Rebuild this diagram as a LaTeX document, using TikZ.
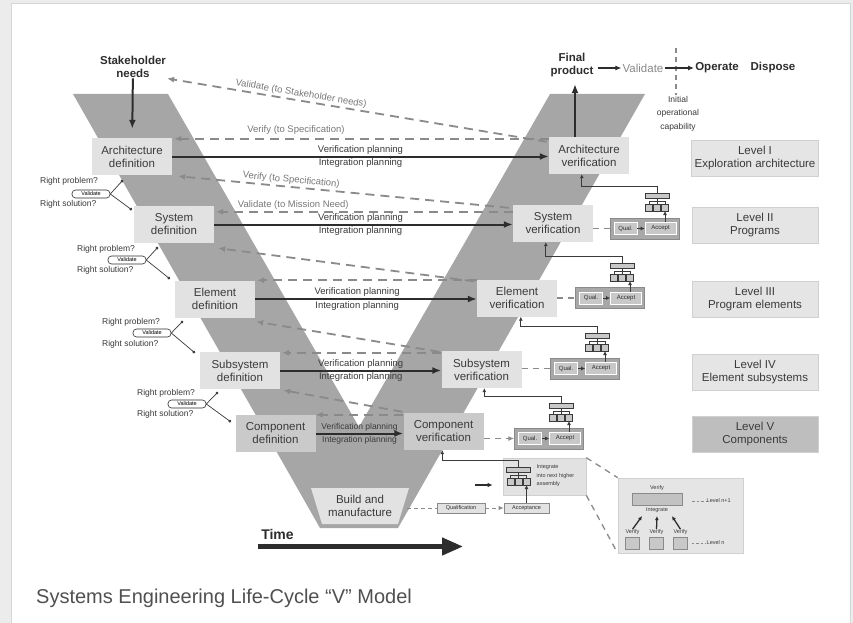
\documentclass[tikz,border=0pt]{standalone}
\usepackage{fontspec}
\setmainfont{Liberation Sans}
\usetikzlibrary{arrows.meta, positioning, calc}

\definecolor{pageGray}{RGB}{236,236,236}
\definecolor{frameGray}{RGB}{214,214,214}
\definecolor{vGray}{RGB}{166,166,166}
\definecolor{boxGray}{RGB}{226,226,226}
\definecolor{compGray}{RGB}{202,202,202}
\definecolor{levelGray}{RGB}{229,229,229}
\definecolor{levelDark}{RGB}{190,190,190}
\definecolor{edgeGray}{RGB}{208,208,208}
\definecolor{dashGray}{RGB}{138,138,138}
\definecolor{inkDark}{RGB}{45,45,45}
\definecolor{textDark}{RGB}{58,58,58}
\definecolor{noteGray}{RGB}{120,120,120}
\definecolor{qaGray}{RGB}{168,168,168}
\definecolor{iconGray}{RGB}{200,200,200}
\definecolor{captionGray}{RGB}{80,80,80}

\newcommand{\boxtext}{\fontsize{11.5}{13}\selectfont}
\newcommand{\plantext}{\fontsize{9.5}{11}\selectfont}
\newcommand{\asktext}{\fontsize{8.5}{10}\selectfont}
\newcommand{\tinytext}{\fontsize{6}{7}\selectfont}
\newcommand{\microtext}{\fontsize{5.5}{8.5}\selectfont}

% small integration tree: bar on top, three parts below
\tikzset{
  treeicon/.pic={
    \draw[fill=iconGray, draw=textDark, line width=0.5pt] (-12,-2.5) rectangle (12,2.5);
    \draw[textDark, line width=0.5pt] (0,2.5) -- (0,5.5) (-8,5.5) -- (8,5.5)
      (-8,5.5) -- (-8,8.5) (0,5.5) -- (0,8.5) (8,5.5) -- (8,8.5);
    \draw[fill=iconGray, draw=textDark, line width=0.5pt] (-11.5,8.5) rectangle (-4.5,15.5)
      (-3.5,8.5) rectangle (3.5,15.5) (4.5,8.5) rectangle (11.5,15.5);
    \coordinate (-top) at (0,-2.5);
    \coordinate (-foot) at (8,15.5);
  }
}

\begin{document}
\begin{tikzpicture}[x=1pt, y=-1pt,
    defbox/.style={rectangle, fill=boxGray, minimum width=80pt, minimum height=37pt, inner sep=1pt, align=center, font=\boxtext, text=textDark},
    levelbox/.style={rectangle, fill=levelGray, draw=edgeGray, line width=0.6pt, minimum width=126pt, minimum height=36pt, align=center, font=\boxtext, text=textDark},
    headtext/.style={align=center, font=\boxtext\bfseries, text=inkDark, inner sep=1pt},
    plan/.style={inkDark, line width=2pt, -{Latex[length=9pt, width=7pt]}},
    planlabel/.style={font=\plantext, text=textDark, inner sep=1.5pt},
    check/.style={dashGray, line width=1.8pt, dash pattern=on 9pt off 6pt, -{Latex[length=7pt, width=6pt]}},
    checklabel/.style={font=\plantext, text=noteGray, inner sep=1.5pt},
    asklabel/.style={anchor=west, font=\asktext, text=textDark, inner sep=0pt},
    pill/.style={draw=inkDark, fill=white, line width=0.6pt, rounded corners=3.5pt, minimum width=38pt, minimum height=8pt, inner sep=0pt, font=\microtext},
    askline/.style={textDark, line width=0.7pt, -{Circle[length=3pt]}},
    qabox/.style={rectangle, fill=qaGray, draw=dashGray, line width=0.5pt, minimum width=69pt, minimum height=21pt, inner sep=0pt},
    qaitem/.style={rectangle, fill=iconGray, draw=white, line width=0.7pt, minimum height=12pt, inner sep=0pt, font=\tinytext, text=inkDark},
    feed/.style={textDark, line width=1pt, -{Latex[length=4pt, width=4pt]}},
    stub/.style={dashGray, line width=1.5pt, dash pattern=on 6pt off 5pt},
    smallbox/.style={rectangle, fill=boxGray, draw=dashGray, line width=0.6pt, minimum height=10pt, inner sep=0pt, font=\microtext, text=inkDark},
    note/.style={font=\microtext, text=textDark, inner sep=0.5pt}
]
    \useasboundingbox (0,0) rectangle (853,623);
    \fill[pageGray] (0,0) rectangle (853,623);
    \filldraw[fill=white, draw=frameGray, line width=1pt] (11,4) rectangle (850,640);

    % The V
    \fill[vGray] (73,94) -- (168,94) -- (359,427) -- (550,94) -- (645,94) -- (398,528) -- (320,528) -- cycle;
    \fill[boxGray] (311,488) -- (409,488) -- (398,524) -- (322,524) -- cycle;
    \node[align=center, font=\boxtext, text=textDark, inner sep=1pt] (build) at (360,506) {Build and\\manufacture};

    % Left side: definition
    \node[defbox] (archdef) at (132,156.5) {Architecture\\definition};
    \node[defbox] (sysdef) at (174,224.5) {System\\definition};
    \node[defbox] (elemdef) at (215,299) {Element\\definition};
    \node[defbox] (subdef) at (240,370.5) {Subsystem\\definition};
    \node[defbox, fill=compGray] (compdef) at (275.5,433.5) {Component\\definition};

    % Right side: verification
    \node[defbox] (archver) at (589,155.5) {Architecture\\verification};
    \node[defbox] (sysver) at (553,223.5) {System\\verification};
    \node[defbox] (elemver) at (517,298) {Element\\verification};
    \node[defbox] (subver) at (481.5,369.5) {Subsystem\\verification};
    \node[defbox, fill=compGray] (compver) at (443.5,431.5) {Component\\verification};

    % Levels
    \node[levelbox] (lev1) at (755,158.5) {Level I\\Exploration architecture};
    \node[levelbox] (lev2) at (755,225) {Level II\\Programs};
    \node[levelbox] (lev3) at (755,299.5) {Level III\\Program elements};
    \node[levelbox] (lev4) at (755,372) {Level IV\\Element subsystems};
    \node[levelbox, fill=levelDark] (lev5) at (755,434) {Level V\\Components};

    % Top row
    \node[headtext] (needs) at (133,66.5) {Stakeholder\\needs};
    \draw[plan, shorten >=9pt] (needs) -- (archdef);
    \node[headtext] (final) at (572,65) {Final\\product};
    \draw[plan, shorten >=6pt] ([xshift=-14pt]archver.north) -- ([xshift=3pt]final.south);
    \node[font=\boxtext, text=dashGray, inner sep=1pt] (validate) at (643,68) {Validate};
    \node[headtext] (operate) at (717,68) {Operate};
    \node[headtext] (dispose) at (773,68) {Dispose};
    \node[align=center, font=\fontsize{8.5}{13.5}\selectfont, text=textDark, inner sep=1pt] (ioc) at (678,113.5) {Initial\\operational\\capability};
    \coordinate (ioctop) at (676,48);
    \draw[stub, line width=1.2pt, dash pattern=on 5pt off 4pt] (ioctop) -- (ioctop |- ioc.north);
    \draw[inkDark, line width=1.2pt, -{Latex[length=6pt, width=5pt]}, shorten <=3pt] (final.east |- validate) -- (validate);
    \draw[inkDark, line width=1.2pt, -{Latex[length=6pt, width=5pt]}] (validate) -- (operate);

    % Verify / validate paths
    \draw[check] ($(archver.north west)+(-2,5)$) -- node[checklabel, sloped, above, pos=0.65] {Validate (to Stakeholder needs)} ($(needs.east)+(0,12)$);
    \draw[check] ($(archver.north west)+(0,2)$) -- node[checklabel, above=2pt, pos=0.675] {Verify (to Specification)} ($(archdef.north east)+(2,1)$);
    \draw[check] ($(sysver.north west)+(-4,3)$) -- node[checklabel, sloped, above, pos=0.66] {Verify (to Specification)} ($(archdef.south east)+(6,1)$);
    \draw[check] ($(sysver.north west)+(0,7)$) -- node[checklabel, above, pos=0.74] {Validate (to Mission Need)} ($(sysdef.north east)+(2,6)$);
    \draw[check] ($(elemver.north west)+(-3,2)$) -- ($(sysdef.south east)+(4,5)$);
    \draw[check] ($(elemver.north west)+(0,1)$) -- ($(elemdef.north east)+(2,0)$);
    \draw[check] ($(subver.north west)+(-2,1)$) -- ($(elemdef.south east)+(1,4)$);
    \draw[check] ($(subver.north west)+(0,2)$) -- ($(subdef.north east)+(2,1)$);
    \draw[check] ($(compver.north west)+(-1,-1)$) -- ($(subdef.south east)+(3,1)$);
    \draw[check] ($(compver.north west)+(0,2)$) -- (compdef.north east);

    % Planning
    \draw[plan] (archdef.east) -- node[planlabel, above] {Verification planning} node[planlabel, below] {Integration planning} (archdef.east -| archver.west);
    \draw[plan] (sysdef.east) -- node[planlabel, above, pos=0.49] {Verification planning} node[planlabel, below, pos=0.49] {Integration planning} (sysdef.east -| sysver.west);
    \draw[plan] (elemdef.east) -- node[planlabel, above, pos=0.46] {Verification planning} node[planlabel, below, pos=0.46] {Integration planning} (elemdef.east -| elemver.west);
    \draw[plan] (subdef.east) -- node[planlabel, above] {Verification planning} node[planlabel, below] {Integration planning} (subdef.east -| subver.west);
    \draw[plan] (compdef.east) -- node[planlabel, above, font=\fontsize{8.5}{10}\selectfont] {Verification planning} node[planlabel, below, font=\fontsize{8.5}{10}\selectfont] {Integration planning} (compdef.east -| compver.west);

    % Right problem / right solution
    \node[asklabel] (prob1) at (40,181) {Right problem?};
    \node[pill] (pill1) at (91,194) {Validate};
    \node[asklabel] (sol1) at (40,204) {Right solution?};
    \coordinate (up1) at (123,180);
    \coordinate (dn1) at (132,210);
    \draw[askline] (pill1.east) -- (up1);
    \draw[askline] (pill1.east) -- (dn1);

    \node[asklabel] (prob2) at (77,249) {Right problem?};
    \node[pill] (pill2) at (127,260) {Validate};
    \node[asklabel] (sol2) at (77,270) {Right solution?};
    \coordinate (up2) at (158,247);
    \coordinate (dn2) at (170,279);
    \draw[askline] (pill2.east) -- (up2);
    \draw[askline] (pill2.east) -- (dn2);

    \node[asklabel] (prob3) at (102,322) {Right problem?};
    \node[pill] (pill3) at (152,333) {Validate};
    \node[asklabel] (sol3) at (102,344) {Right solution?};
    \coordinate (up3) at (183,321);
    \coordinate (dn3) at (195,353);
    \draw[askline] (pill3.east) -- (up3);
    \draw[askline] (pill3.east) -- (dn3);

    \node[asklabel] (prob4) at (137,393) {Right problem?};
    \node[pill] (pill4) at (187,404) {Validate};
    \node[asklabel] (sol4) at (137,414) {Right solution?};
    \coordinate (up4) at (218,392);
    \coordinate (dn4) at (231,422);
    \draw[askline] (pill4.east) -- (up4);
    \draw[askline] (pill4.east) -- (dn4);

    % Qualification / acceptance per level
    \node[qabox] (qa2) at (644.5,228.5) {};
    \node[qaitem, minimum width=23pt] (qual2) at (625.5,228.5) {Qual.};
    \node[qaitem, minimum width=31pt] (acc2) at (660.5,228.5) {Accept};
    \draw[feed] (qual2) -- (acc2);
    \draw[stub] (sysver.east |- qa2) -- (qa2.west);
    \pic (tree2) at (657,195.5) {treeicon};
    \draw[feed] (acc2.north -| tree2-foot) -- (tree2-foot);
    \draw[feed] (tree2-top) -- ++(0,-7) -| ($(archver.south west)+(33,0)$);

    \node[qabox] (qa3) at (610,298) {};
    \node[qaitem, minimum width=23pt] (qual3) at (591,298) {Qual.};
    \node[qaitem, minimum width=31pt] (acc3) at (626,298) {Accept};
    \draw[feed] (qual3) -- (acc3);
    \draw[stub] (elemver.east |- qa3) -- (qa3.west);
    \pic (tree3) at (622,265.5) {treeicon};
    \draw[feed] (acc3.north -| tree3-foot) -- (tree3-foot);
    \draw[feed] (tree3-top) -- ++(0,-7) -| ($(sysver.south west)+(33,0)$);

    \node[qabox] (qa4) at (585,368.5) {};
    \node[qaitem, minimum width=23pt] (qual4) at (566,368.5) {Qual.};
    \node[qaitem, minimum width=31pt] (acc4) at (601,368.5) {Accept};
    \draw[feed] (qual4) -- (acc4);
    \draw[stub] (subver.east |- qa4) -- (qa4.west);
    \pic (tree4) at (597,335.5) {treeicon};
    \draw[feed] (acc4.north -| tree4-foot) -- (tree4-foot);
    \draw[feed] (tree4-top) -- ++(0,-7) -| ($(elemver.south west)+(44,0)$);

    \node[qabox] (qa5) at (549,438.5) {};
    \node[qaitem, minimum width=23pt] (qual5) at (530,438.5) {Qual.};
    \node[qaitem, minimum width=31pt] (acc5) at (565,438.5) {Accept};
    \draw[feed] (qual5) -- (acc5);
    \draw[stub, -{Latex[length=6pt, width=5pt]}] (compver.east |- qa5) -- (qa5.west);
    \pic (tree5) at (561,405.5) {treeicon};
    \draw[feed] (acc5.north -| tree5-foot) -- (tree5-foot);
    \draw[feed] (tree5-top) -- ++(0,-7) -| ($(subver.south west)+(43,0)$);

    % Integrate into next higher assembly
    \node[rectangle, fill=boxGray, draw=edgeGray, line width=0.6pt, minimum width=83pt, minimum height=37pt] (intbox) at (544.5,476.5) {};
    \pic (tree6) at (518.5,469.5) {treeicon};
    \node[note, anchor=west, align=left] (inttext) at (536,476) {Integrate\\into next higher\\assembly};
    \draw[feed] (tree6-top) -- ++(0,-7) -| ($(compver.south west)+(39,0)$);
    \coordinate (intin) at (475,485);
    \draw[inkDark, line width=1.2pt, -{Latex[length=5pt, width=4.5pt]}, shorten >=10pt] (intin) -- (intin -| intbox.west);
    \node[smallbox, minimum width=48pt] (qualif) at (461,508) {Qualification};
    \node[smallbox, minimum width=45pt] (accept) at (526.5,508) {Acceptance};
    \draw[stub, line width=1pt, dash pattern=on 4pt off 3pt, shorten <=14pt] (build.east |- qualif) -- (qualif.west);
    \draw[stub, line width=1pt, dash pattern=on 4pt off 3pt, -{Latex[length=5pt, width=4.5pt]}] (qualif) -- (accept);
    \draw[feed] (accept) -- (tree6-foot);

    % Detail of one integration step
    \node[rectangle, fill=levelGray, draw=edgeGray, line width=0.6pt, minimum width=125pt, minimum height=75pt] (inset) at (680.5,515.5) {};
    \draw[stub, line width=1.3pt] (intbox.north east) -- (inset.north west);
    \draw[stub, line width=1.3pt] (intbox.south east) -- (inset.south west);
    \node[note] (vtop) at (657,488) {Verify};
    \node[rectangle, fill=qaGray!70, draw=dashGray, minimum width=50pt, minimum height=12pt, inner sep=0pt] (vbar) at (657,499) {};
    \node[note] (intlab) at (657,510) {Integrate};
    \node[rectangle, fill=iconGray, draw=dashGray, minimum width=14pt, minimum height=12pt, inner sep=0pt] (sq1) at (632.5,543) {};
    \node[rectangle, fill=iconGray, draw=dashGray, minimum width=14pt, minimum height=12pt, inner sep=0pt] (sq2) at (656.5,543) {};
    \node[rectangle, fill=iconGray, draw=dashGray, minimum width=14pt, minimum height=12pt, inner sep=0pt] (sq3) at (680.5,543) {};
    \node[note, above=1pt of sq1] (vl1) {Verify};
    \node[note, above=1pt of sq2] (vl2) {Verify};
    \node[note, above=1pt of sq3] (vl3) {Verify};
    \draw[inkDark, line width=1.3pt, -{Latex[length=4pt, width=4pt]}] (vl1.north) -- ($(intlab.south)+(-15,3)$);
    \draw[inkDark, line width=1.3pt, -{Latex[length=4pt, width=4pt]}] (vl2.north) -- ($(intlab.south)+(0,3)$);
    \draw[inkDark, line width=1.3pt, -{Latex[length=4pt, width=4pt]}] (vl3.north) -- ($(intlab.south)+(15,3)$);
    \node[note, anchor=west] (lvup) at (706,501) {Level n+1};
    \node[note, anchor=west] (lvdown) at (706,543) {Level n};
    \draw[dashGray, line width=0.8pt, dash pattern=on 2.5pt off 2pt, shorten <=10pt] (vbar.east |- lvup.west) -- (lvup.west);
    \draw[dashGray, line width=0.8pt, dash pattern=on 2.5pt off 2pt, shorten <=4pt] (sq3.east |- lvdown.west) -- (lvdown.west);

    % Time axis
    \node[font=\fontsize{14}{16}\selectfont\bfseries, text=inkDark, inner sep=0pt] (time) at (277.5,534) {Time};
    \coordinate (tstart) at (258,546.5);
    \coordinate (tend) at (463,546.5);
    \draw[inkDark, line width=4.5pt, -{Triangle[length=21pt, width=17pt]}] (tstart) -- (tend);

    \node[anchor=base west, font=\fontsize{20}{24}\selectfont, text=captionGray, inner sep=0pt] (caption) at (36,603) {Systems Engineering Life-Cycle “V” Model};
\end{tikzpicture}
\end{document}
